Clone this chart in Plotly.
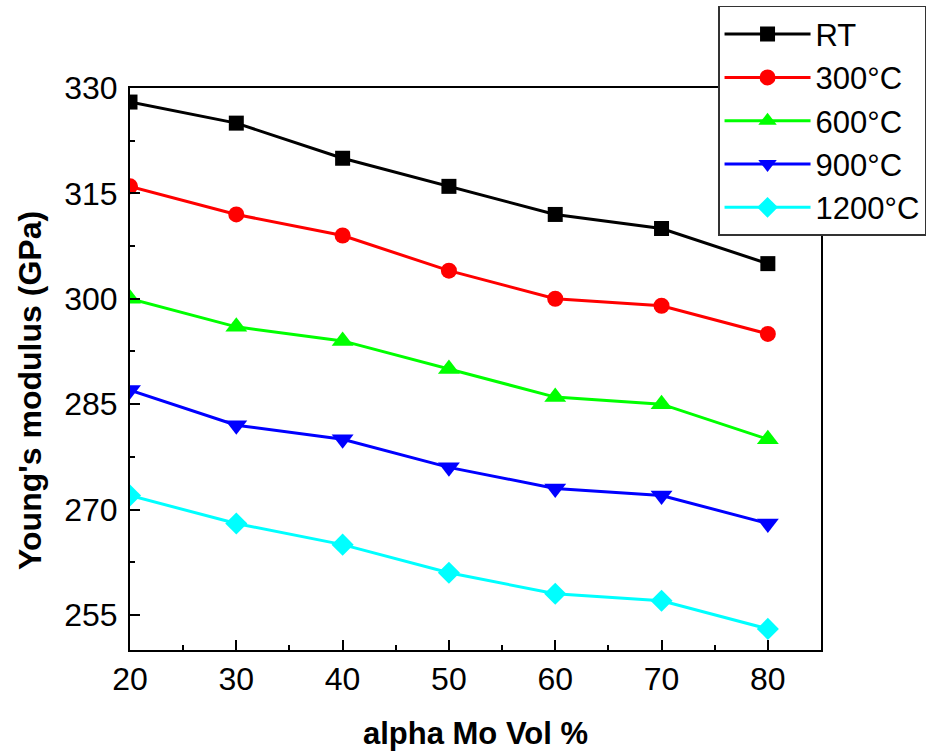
import plotly.graph_objects as go

x_vol = [20, 30, 40, 50, 60, 70, 80]
rt = [328, 325, 320, 316, 312, 310, 305]
t300 = [316, 312, 309, 304, 300, 299, 295]
t600 = [300, 296, 294, 290, 286, 285, 280]
t900 = [287, 282, 280, 276, 273, 272, 268]
t1200 = [272, 268, 265, 261, 258, 257, 253]

series_names = ["RT", "300°C", "600°C", "900°C", "1200°C"]
series_vals = [rt, t300, t600, t900, t1200]
colors = ["#000000", "#ff0000", "#00ff00", "#0000ff", "#00ffff"]
symbols = ["square", "circle", "triangle-up", "triangle-down", "diamond"]
sizes = [15, 16, 19, 19, 17]

FONT = "Liberation Sans, Arial, sans-serif"

fig = go.Figure()
for name, vals, c, s, sz in zip(series_names, series_vals, colors, symbols, sizes):
    fig.add_trace(go.Scatter(
        x=x_vol, y=vals, name=name, mode="lines+markers",
        line=dict(color=c, width=3),
        marker=dict(symbol=s, size=sz, color=c, line=dict(width=0)),
    ))

fig.update_layout(
    width=928, height=754,
    margin=dict(l=130, r=107, t=88, b=104, autoexpand=False),
    paper_bgcolor="white", plot_bgcolor="white",
    font=dict(family=FONT, size=32, color="black"),
    showlegend=True,
    legend=dict(
        x=0.851, y=1.146, xanchor="left", yanchor="top",
        bgcolor="white", bordercolor="#333333", borderwidth=1.5,
        font=dict(family=FONT, size=31, color="black"),
        itemwidth=86, tracegroupgap=0,
    ),
    annotations=[dict(
        text="<b>Young's modulus (GPa)</b>", textangle=-90,
        xref="paper", yref="paper", x=-0.1447, y=0.461,
        xanchor="center", yanchor="middle", showarrow=False,
        font=dict(family=FONT, size=32, color="black"),
    )],
)

fig.update_xaxes(
    range=[20, 85], tick0=20, dtick=10,
    ticks="inside", ticklen=10, tickwidth=2, tickcolor="black",
    minor=dict(dtick=5, ticks="inside", ticklen=5, tickwidth=2, tickcolor="black"),
    showline=True, linecolor="black", linewidth=2, mirror=True,
    showgrid=False, zeroline=False,
    tickfont=dict(family=FONT, size=32),
    ticklabelstandoff=0,
    title=dict(text="<b>alpha Mo Vol %</b>", font=dict(family=FONT, size=31), standoff=26),
)
fig.update_yaxes(
    range=[250, 330], tick0=255, dtick=15,
    ticks="inside", ticklen=10, tickwidth=2, tickcolor="black",
    minor=dict(tick0=255, dtick=7.5, ticks="inside", ticklen=5, tickwidth=2, tickcolor="black"),
    showline=True, linecolor="black", linewidth=2, mirror=True,
    showgrid=False, zeroline=False,
    tickfont=dict(family=FONT, size=32),
    ticklabelstandoff=4,
)

fig.write_html("out.html")
